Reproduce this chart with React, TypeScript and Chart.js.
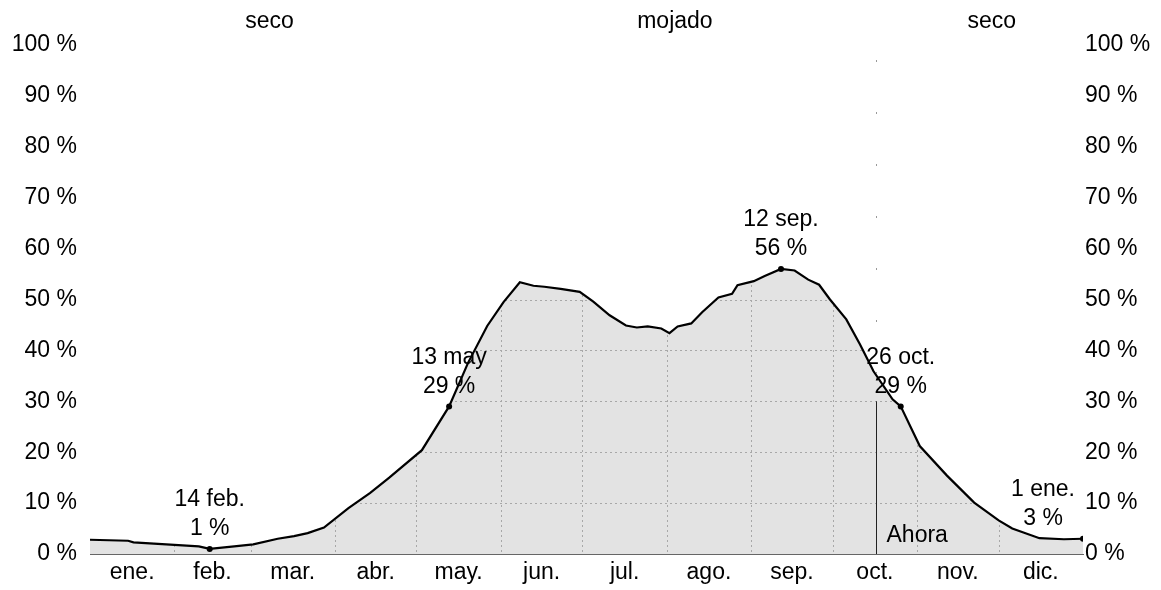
import React, { useEffect, useRef } from "react";
import { Chart, registerables } from "chart.js";

Chart.register(...registerables);

// Day of year (0 = 1 Jan, 365 = 1 Jan next year) and daily chance of a wet day (%)
const days = [
  0, 14, 16, 28, 40, 44, 53, 60, 69, 75, 80, 86, 95, 103, 110, 122, 132, 139, 146, 152,
  158, 163, 167, 173, 180, 185, 191, 197, 201, 205, 210, 213, 216, 221, 225, 231, 236,
  238, 244, 248, 254, 259, 264, 268, 272, 278, 283, 288, 295, 298, 305, 315, 325, 334,
  339, 349, 358, 365,
];
const wetChance = [
  2.8, 2.6, 2.3, 1.9, 1.5, 1.0, 1.5, 1.9, 3.0, 3.5, 4.1, 5.2, 9.0, 12.0, 15.0, 20.4, 29.0,
  37.6, 44.8, 49.5, 53.4, 52.7, 52.5, 52.1, 51.5, 49.6, 46.9, 44.9, 44.5, 44.7, 44.3, 43.4,
  44.7, 45.3, 47.5, 50.4, 51.1, 52.8, 53.6, 54.6, 56.0, 55.7, 53.9, 52.9, 50.0, 46.1, 41.2,
  35.9, 30.4, 29.0, 21.2, 15.4, 10.1, 6.6, 5.0, 3.1, 2.9, 3.0,
];

// Annotated extremes / season boundaries
const annotDays = [44, 132, 254, 298, 365];
const annotTop = ["14 feb.", "13 may", "12 sep.", "26 oct.", "1 ene."];
const annotBottom = ["1 %", "29 %", "56 %", "29 %", "3 %"];

// Month axis
const monthStarts = [0, 31, 59, 90, 120, 151, 181, 212, 243, 273, 304, 334, 365];
const monthLabels = ["ene.", "feb.", "mar.", "abr.", "may.", "jun.", "jul.", "ago.", "sep.", "oct.", "nov.", "dic."];

// Seasons
const seasonBounds = [0, 132, 298, 365];
const seasonLabels = ["seco", "mojado", "seco"];

// "Now" marker
const nowDay = 289;
const nowLabel = "Ahora";
const nowMarkerTop = 30;

const yTicks = [0, 10, 20, 30, 40, 50, 60, 70, 80, 90, 100];

const FONT = "'Liberation Sans', Arial, Helvetica, sans-serif";
const FSIZE = 23;

const overlayPlugin = {
  id: "overlay",
  beforeDatasetsDraw(chart: any) {
    const meta = chart.getDatasetMeta(0);
    const xs = chart.scales.x;
    const ys = chart.scales.y;
    const pts = meta.data;
    if (!pts.length) return;
    const base = ys.getPixelForValue(0);
    const ctx = chart.ctx;
    ctx.save();
    ctx.beginPath();
    ctx.moveTo(pts[0].x, base);
    for (const p of pts) ctx.lineTo(p.x, p.y);
    ctx.lineTo(pts[pts.length - 1].x, base);
    ctx.closePath();
    ctx.clip();
    ctx.strokeStyle = "#a8a8a8";
    ctx.lineWidth = 1;
    ctx.setLineDash([2, 3]);
    for (const v of yTicks.slice(1, -1)) {
      const y = Math.round(ys.getPixelForValue(v)) + 0.5;
      ctx.beginPath();
      ctx.moveTo(chart.chartArea.left, y);
      ctx.lineTo(chart.chartArea.right, y);
      ctx.stroke();
    }
    for (const d of monthStarts.slice(1, -1)) {
      const x = Math.round(xs.getPixelForValue(d)) + 0.5;
      ctx.beginPath();
      ctx.moveTo(x, chart.chartArea.top);
      ctx.lineTo(x, base);
      ctx.stroke();
    }
    ctx.restore();
  },
  afterDatasetsDraw(chart: any) {
    const xs = chart.scales.x;
    const ys = chart.scales.y;
    const ctx = chart.ctx;
    const area = chart.chartArea;
    const base = ys.getPixelForValue(0);
    ctx.save();
    // now line
    const nx = Math.round(xs.getPixelForValue(nowDay)) + 0.5;
    ctx.strokeStyle = "#999";
    ctx.lineWidth = 1;
    ctx.setLineDash([2, 50]);
    ctx.beginPath();
    ctx.moveTo(nx, area.top + 15);
    ctx.lineTo(nx, base);
    ctx.stroke();
    ctx.setLineDash([]);
    ctx.strokeStyle = "#222";
    ctx.beginPath();
    ctx.moveTo(nx, ys.getPixelForValue(nowMarkerTop));
    ctx.lineTo(nx, base);
    ctx.stroke();
    ctx.font = `${FSIZE}px ${FONT}`;
    ctx.fillStyle = "#000";
    ctx.textBaseline = "middle";
    ctx.textAlign = "left";
    ctx.fillText(nowLabel, nx + 10, base - 18);

    // annotations
    ctx.textAlign = "center";
    annotDays.forEach((d, i) => {
      const idx = days.indexOf(d);
      const px = xs.getPixelForValue(d);
      const py = ys.getPixelForValue(wetChance[idx]);
      const w = Math.max(ctx.measureText(annotTop[i]).width, ctx.measureText(annotBottom[i]).width);
      let cx = px;
      if (cx + w / 2 > area.right - 8) cx = area.right - 8 - w / 2;
      ctx.fillText(annotTop[i], cx, py - 49);
      ctx.fillText(annotBottom[i], cx, py - 20);
    });
    ctx.restore();
  },
};

export default function App() {
  const ref = useRef<HTMLCanvasElement>(null);
  useEffect(() => {
    Chart.defaults.font.family = FONT;
    Chart.defaults.font.size = FSIZE;
    Chart.defaults.color = "#000";
    const chart = new Chart(ref.current as HTMLCanvasElement, {
      type: "line",
      data: {
        datasets: [
          {
            data: days.map((d, i) => ({ x: d, y: wetChance[i] })),
            borderColor: "#000",
            borderWidth: 2.2,
            backgroundColor: "#e3e3e3",
            fill: "origin",
            tension: 0,
            pointRadius: (c: any) => (annotDays.includes(days[c.dataIndex]) ? 3 : 0),
            pointBackgroundColor: "#000",
            pointBorderWidth: 0,
          },
        ],
      },
      options: {
        animation: false,
        responsive: false,
        devicePixelRatio: 1,
        layout: { padding: 0 },
        plugins: {
          legend: { display: false },
          tooltip: { enabled: false },
          filler: { drawTime: "beforeDatasetsDraw" },
        },
        scales: {
          x: {
            type: "linear",
            position: "bottom",
            min: 0,
            max: 365,
            grid: { display: false, drawTicks: false },
            border: { display: true, color: "#666", dash: [4, 3], width: 1 },
            afterBuildTicks: (s: any) => {
              s.ticks = monthLabels.map((_, i) => ({ value: (monthStarts[i] + monthStarts[i + 1]) / 2 }));
            },
            afterFit: (s: any) => {
              s.height = 36;
            },
            ticks: {
              autoSkip: false,
              maxRotation: 0,
              padding: 5,
              callback: (_v: any, i: number) => monthLabels[i],
            },
          },
          xTop: {
            type: "linear",
            position: "top",
            min: 0,
            max: 365,
            grid: { display: false, drawTicks: false },
            border: { display: false },
            afterBuildTicks: (s: any) => {
              s.ticks = seasonLabels.map((_, i) => ({ value: (seasonBounds[i] + seasonBounds[i + 1]) / 2 }));
            },
            afterFit: (s: any) => {
              s.height = 45;
            },
            ticks: {
              autoSkip: false,
              maxRotation: 0,
              padding: 10,
              callback: (_v: any, i: number) => seasonLabels[i],
            },
          },
          y: {
            type: "linear",
            position: "left",
            min: 0,
            max: 100,
            grid: { display: false, drawTicks: false },
            border: { display: false },
            afterBuildTicks: (s: any) => {
              s.ticks = yTicks.map((v) => ({ value: v }));
            },
            afterFit: (s: any) => {
              s.width = 90;
            },
            ticks: { autoSkip: false, padding: 13, callback: (v: any) => `${v} %` },
          },
          yRight: {
            type: "linear",
            position: "right",
            min: 0,
            max: 100,
            grid: { display: false, drawTicks: false },
            border: { display: false },
            afterBuildTicks: (s: any) => {
              s.ticks = yTicks.map((v) => ({ value: v }));
            },
            afterFit: (s: any) => {
              s.width = 78;
            },
            ticks: { autoSkip: false, padding: 2, callback: (v: any) => `${v} %` },
          },
        },
      },
      plugins: [overlayPlugin],
    } as any);
    return () => chart.destroy();
  }, []);
  return (
    <div style={{ position: "fixed", left: 0, top: 0, width: 1161, height: 590, background: "#fff" }}>
      <canvas ref={ref} width={1161} height={590} style={{ display: "block" }} />
    </div>
  );
}
